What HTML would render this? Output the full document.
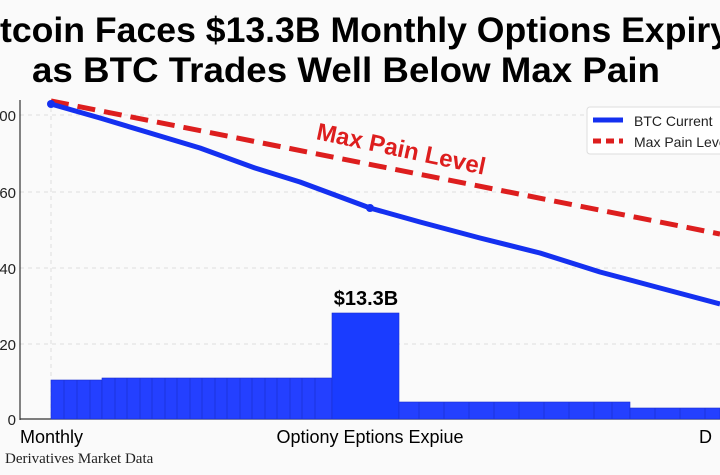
<!DOCTYPE html>
<html><head><meta charset="utf-8"><style>
html,body{margin:0;padding:0;background:#fafafa;width:720px;height:475px;overflow:hidden}
svg{display:block;font-family:"Liberation Sans",sans-serif}
</style></head><body>
<svg width="720" height="475" viewBox="0 0 720 475" xmlns="http://www.w3.org/2000/svg">
<rect width="720" height="475" fill="#fafafa"/>
<text x="0" y="42" font-size="35" font-weight="bold" fill="#000" textLength="730" lengthAdjust="spacingAndGlyphs">tcoin Faces $13.3B Monthly Options Expiry</text>
<text x="32" y="82" font-size="35" font-weight="bold" fill="#000" textLength="628" lengthAdjust="spacingAndGlyphs">as BTC Trades Well Below Max Pain</text>
<g stroke="#ddd" stroke-width="1" stroke-dasharray="4,4">
<line x1="20" y1="115" x2="720" y2="115"/><line x1="20" y1="192" x2="720" y2="192"/>
<line x1="20" y1="268" x2="720" y2="268"/><line x1="20" y1="344" x2="720" y2="344"/>
<line x1="51" y1="100" x2="51" y2="419"/>
</g>
<line x1="20" y1="100" x2="20" y2="420" stroke="#333" stroke-width="1.2"/>
<line x1="20" y1="419" x2="720" y2="419" stroke="#333" stroke-width="1.2"/>
<g font-size="15" fill="#222" text-anchor="end">
<text x="16" y="121">100</text><text x="16" y="198">60</text><text x="16" y="274">40</text><text x="16" y="350">20</text><text x="16" y="425">0</text>
</g>
<g fill="#2440ff" stroke="#1a2fd0" stroke-width="0.6">
<rect x="51" y="380" width="51" height="39"/>
<rect x="102" y="378" width="230" height="41"/>
<rect x="332" y="313" width="67" height="106" fill="#1a3cff"/>
<rect x="399" y="402" width="231" height="17"/>
<rect x="630" y="408" width="90" height="11"/>
</g>
<g stroke="#1a2fd0" stroke-width="0.7">
<line x1="64" y1="380" x2="64" y2="419"/><line x1="77" y1="380" x2="77" y2="419"/><line x1="90" y1="380" x2="90" y2="419"/>
<line x1="115" y1="378" x2="115" y2="419"/><line x1="127" y1="378" x2="127" y2="419"/><line x1="140" y1="378" x2="140" y2="419"/><line x1="152" y1="378" x2="152" y2="419"/><line x1="165" y1="378" x2="165" y2="419"/><line x1="177" y1="378" x2="177" y2="419"/><line x1="190" y1="378" x2="190" y2="419"/><line x1="202" y1="378" x2="202" y2="419"/><line x1="215" y1="378" x2="215" y2="419"/><line x1="227" y1="378" x2="227" y2="419"/><line x1="240" y1="378" x2="240" y2="419"/><line x1="252" y1="378" x2="252" y2="419"/><line x1="265" y1="378" x2="265" y2="419"/><line x1="277" y1="378" x2="277" y2="419"/><line x1="290" y1="378" x2="290" y2="419"/><line x1="302" y1="378" x2="302" y2="419"/><line x1="315" y1="378" x2="315" y2="419"/>
<line x1="419" y1="402" x2="419" y2="419"/><line x1="444" y1="402" x2="444" y2="419"/><line x1="469" y1="402" x2="469" y2="419"/><line x1="494" y1="402" x2="494" y2="419"/><line x1="519" y1="402" x2="519" y2="419"/><line x1="544" y1="402" x2="544" y2="419"/><line x1="569" y1="402" x2="569" y2="419"/><line x1="594" y1="402" x2="594" y2="419"/><line x1="612" y1="402" x2="612" y2="419"/>
<line x1="655" y1="408" x2="655" y2="419"/><line x1="680" y1="408" x2="680" y2="419"/><line x1="705" y1="408" x2="705" y2="419"/>
</g>
<text x="366" y="305" font-size="20" font-weight="bold" text-anchor="middle" fill="#000">$13.3B</text>
<line x1="51" y1="101" x2="720" y2="234" stroke="#dd1e1e" stroke-width="5" stroke-dasharray="18,9"/>
<polyline fill="none" stroke="#1430f0" stroke-width="5" stroke-linejoin="round" points="51,104 100,118 150,133 200,148 255,168 300,182 370,208 420,222 480,238 540,253 600,272 660,288 720,304"/>
<circle cx="51" cy="104" r="4" fill="#1430f0"/>
<circle cx="370" cy="208" r="4" fill="#1430f0"/>
<text x="401" y="157" font-size="24" font-weight="bold" fill="#dd1e1e" text-anchor="middle" transform="rotate(12 401 150)">Max Pain Level</text>
<rect x="587" y="107" width="140" height="47" rx="3" fill="#fff" stroke="#ddd"/>
<line x1="593" y1="120" x2="623" y2="120" stroke="#1430f0" stroke-width="5"/>
<line x1="593" y1="141" x2="623" y2="141" stroke="#dd1e1e" stroke-width="5" stroke-dasharray="8,5"/>
<text x="634" y="126" font-size="14" fill="#222">BTC Current</text>
<text x="634" y="147" font-size="14" fill="#222">Max Pain Level</text>
<text x="20" y="443" font-size="18" fill="#000">Monthly</text>
<text x="370" y="443" font-size="18" fill="#000" text-anchor="middle">Optiony Eptions Expiue</text>
<text x="699" y="443" font-size="18" fill="#000">D</text>
<text x="5" y="463" font-size="15" fill="#222" font-family="Liberation Serif,serif">Derivatives Market Data</text>
</svg>
</body></html>
